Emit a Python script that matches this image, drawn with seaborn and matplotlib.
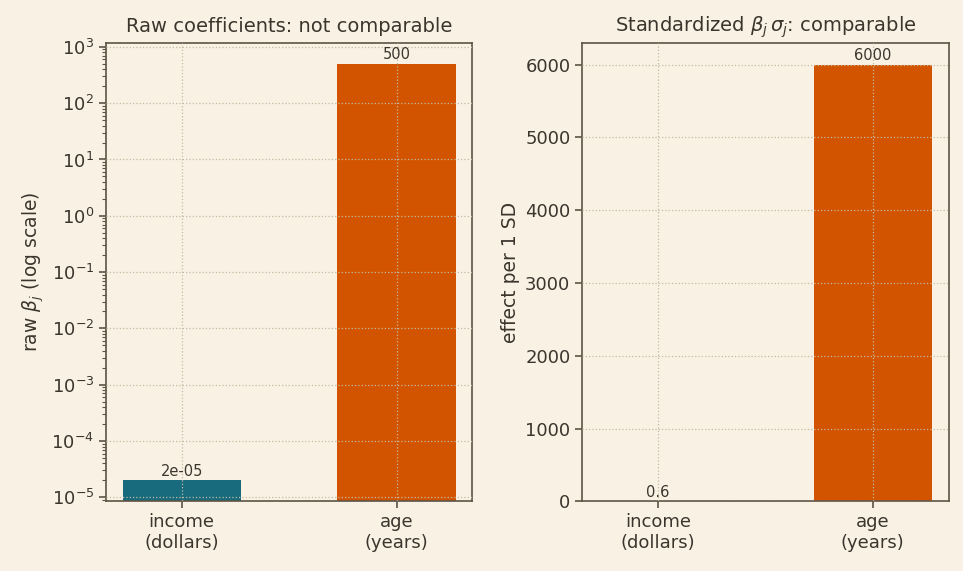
import matplotlib
matplotlib.use("Agg")
import matplotlib.pyplot as plt
import pandas as pd
import seaborn as sns

features = ["income\n(dollars)", "age\n(years)"]
raw_beta = [2e-05, 500]
standardized = [0.6, 6000]
raw_labels = ["2e-05", "500"]
std_labels = ["0.6", "6000"]
bar_colors = ["#176b7d", "#d35400"]

BG = "#f9f2e4"
INK = "#3b352e"
EDGE = "#5e5345"
GRID = "#c4b9a2"

sns.set_theme(style="ticks")
plt.rcParams.update({
    "figure.facecolor": BG,
    "axes.facecolor": BG,
    "savefig.facecolor": BG,
    "axes.edgecolor": EDGE,
    "axes.labelcolor": INK,
    "text.color": INK,
    "xtick.color": EDGE,
    "ytick.color": EDGE,
    "xtick.labelcolor": INK,
    "ytick.labelcolor": INK,
    "axes.linewidth": 1.2,
})
plt.rcParams["font.family"] = ["DejaVu Sans"]

df = pd.DataFrame({"feature": features, "raw": raw_beta, "std": standardized})
palette = dict(zip(features, bar_colors))

fig, (ax1, ax2) = plt.subplots(1, 2, figsize=(9.63, 5.71), dpi=100)

sns.barplot(data=df, x="feature", y="raw", hue="feature", palette=palette,
            width=0.55, saturation=1, linewidth=0, legend=False, ax=ax1)
ax1.set_yscale("log")
ax1.set_ylim(8.5e-6, 1.18e3)
ax1.set_title("Raw coefficients: not comparable", fontsize=14, color=INK, pad=8)
ax1.set_ylabel(r"raw $\beta_j$ (log scale)", fontsize=13.5)
ax1.set_xlabel("")
for i, cont in enumerate(ax1.containers):
    ax1.bar_label(cont, labels=[raw_labels[i]], fontsize=10.5, padding=1, color=INK)

sns.barplot(data=df, x="feature", y="std", hue="feature", palette=palette,
            width=0.55, saturation=1, linewidth=0, legend=False, ax=ax2)
ax2.set_title(r"Standardized $\beta_j\,\sigma_j$: comparable", fontsize=14, color=INK, pad=8)
ax2.set_ylabel("effect per 1 SD", fontsize=13.5)
ax2.set_xlabel("")
for i, cont in enumerate(ax2.containers):
    ax2.bar_label(cont, labels=[std_labels[i]], fontsize=10.5, padding=1, color=INK)

for ax in (ax1, ax2):
    ax.set_xlim(-0.3525, 1.3525)
    ax.grid(True, linestyle=":", color=GRID, linewidth=0.9)
    ax.set_axisbelow(False)
    ax.tick_params(axis="both", labelsize=13, length=5, width=1.2)
    ax.tick_params(axis="y", which="minor", length=3, width=0.8)
    for s in ax.spines.values():
        s.set_visible(True)
        s.set_color(EDGE)

fig.subplots_adjust(left=0.11, right=0.985, top=0.925, bottom=0.122, wspace=0.3)
fig.savefig("out.png", dpi=100)
